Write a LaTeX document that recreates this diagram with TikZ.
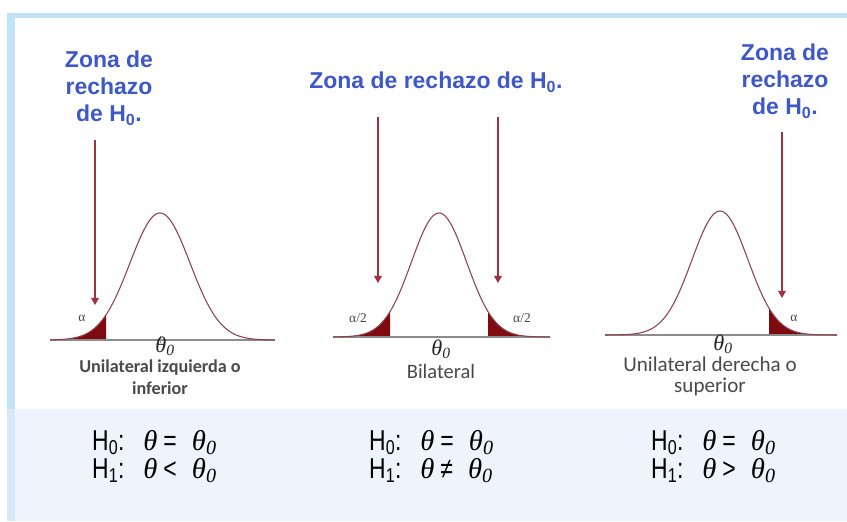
\documentclass[tikz,border=0pt]{standalone}
\usepackage{fontspec}
\setmainfont{Liberation Sans}
\newfontfamily\calfont{Carlito}
\newfontfamily\serfont{Liberation Serif}
\usetikzlibrary{arrows.meta}
\definecolor{zblue}{HTML}{3F58C9}
\definecolor{frameblue}{HTML}{C4E2F6}
\definecolor{stripblue}{HTML}{D6E9F8}
\definecolor{paleblue}{HTML}{EDF4FB}
\definecolor{curvecol}{HTML}{8E3F4E}
\definecolor{tailcol}{HTML}{7F0A10}
\definecolor{arrowcol}{HTML}{A1313E}
\definecolor{axiscol}{HTML}{8C8C8C}
\definecolor{txtgray}{HTML}{4A4A4A}
\newcommand\thv{{\serfont\itshape θ}}
\newcommand\thz{{\serfont\itshape θ\textsubscript{0}}}
\newcommand\hypline[2]{\scalebox{0.8}[1]{H\textsubscript{#1}:}\hspace{16pt}\thv\hspace{5pt}\scalebox{0.8}[1]{#2}\hspace{13pt}\thz}
\begin{document}
\begin{tikzpicture}[x=0.03cm,y=-0.03cm,
  zona/.style={font=\fontsize{19.6}{23}\selectfont\bfseries, text=zblue, align=center, inner sep=0pt},
  zarrow/.style={draw=arrowcol, line width=1.2pt, -{Triangle[width=6.5pt,length=6pt]}},
  curve/.style={draw=curvecol, line width=0.9pt},
  tail/.style={fill=tailcol},
  axis/.style={draw=axiscol, line width=1.2pt},
  alab/.style={font=\serfont\fontsize{11.5}{13}\selectfont, text=txtgray, inner sep=0pt},
  thlab/.style={font=\fontsize{19}{21}\selectfont, text=black!85, inner sep=0pt},
  glab/.style={font=\calfont\fontsize{16.5}{18.5}\selectfont, text=txtgray, align=center, inner sep=0pt},
  hyp/.style={font=\fontsize{24.5}{28}\selectfont, text=black, inner sep=0pt, anchor=base west}
]
\useasboundingbox (0,0) rectangle (847,521);
\fill[white] (0,0) rectangle (847,521);
\fill[frameblue] (7,13) rectangle (847,521);
\fill[stripblue] (7,409) rectangle (15,521);
\fill[paleblue] (15,18) rectangle (847,521);
\fill[white] (15,18) rectangle (847,409);

% ---------- left panel ----------
\node[zona] (zl) at (109,88) {Zona de\\rechazo\\de H\textsubscript{0}.};
\coordinate (al1) at (95,140);
\coordinate (al2) at (95,305);
\draw[zarrow] (al1) -- (al2);
\fill[tail] (50,340) -- plot[domain=50:106,samples=40] (\x,{340-127*exp(-0.5*((\x-160)/30)^2)}) -- (106,340) -- cycle;
\draw[axis] (50,340) -- (275,340);
\draw[axiscol, line width=0.8pt] (160,336) -- (160,343);
\draw[curve] plot[domain=50:275,samples=120] (\x,{340-127*exp(-0.5*((\x-160)/30)^2)});
\node[alab] (alphal) at (82,318) {α};
\node[thlab] (thl) at (165,346) {\thz};
\node[glab, font=\calfont\bfseries\fontsize{15.5}{18.5}\selectfont] (ul) at (160,377) {Unilateral izquierda o\\inferior};

% ---------- middle panel ----------
\node[zona] (zm) at (436,82) {Zona de rechazo de H\textsubscript{0}.};
\coordinate (am1) at (378,117);
\coordinate (am2) at (378,283);
\coordinate (am3) at (498,117);
\coordinate (am4) at (498,283);
\draw[zarrow] (am1) -- (am2);
\draw[zarrow] (am3) -- (am4);
\fill[tail] (333,337) -- plot[domain=333:390,samples=40] (\x,{337-124*exp(-0.5*((\x-439)/27.5)^2)}) -- (390,337) -- cycle;
\fill[tail] (488,337) -- plot[domain=488:550,samples=40] (\x,{337-124*exp(-0.5*((\x-439)/27.5)^2)}) -- (550,337) -- cycle;
\draw[axis] (333,337) -- (550,337);
\draw[curve] plot[domain=333:550,samples=120] (\x,{337-124*exp(-0.5*((\x-439)/27.5)^2)});
\node[alab] (alpham1) at (358,318) {α/2};
\node[alab] (alpham2) at (522,318) {α/2};
\node[thlab] (thm) at (441,349) {\thz};
\node[glab, font=\calfont\fontsize{17.5}{19}\selectfont] (um) at (441,371) {Bilateral};

% ---------- right panel ----------
\node[zona] (zr) at (785,81) {Zona de\\rechazo\\de H\textsubscript{0}.};
\coordinate (ar1) at (782,132);
\coordinate (ar2) at (782,298);
\draw[zarrow] (ar1) -- (ar2);
\fill[tail] (769,335) -- plot[domain=769:837,samples=40] (\x,{335-124*exp(-0.5*((\x-720)/28)^2)}) -- (837,335) -- cycle;
\draw[axis] (605,335) -- (837,335);
\draw[curve] plot[domain=605:837,samples=120] (\x,{335-124*exp(-0.5*((\x-720)/28)^2)});
\node[alab] (alphar) at (794,318) {α};
\node[thlab] (thr) at (723,344) {\thz};
\node[glab, font=\calfont\fontsize{18}{18}\selectfont] (ur) at (710,376) {Unilateral derecha o\\superior};

% ---------- hypotheses ----------
\node[hyp] (h0l) at (92,450) {\hypline{0}{=}};
\node[hyp] (h1l) at (92,478) {\hypline{1}{<}};
\node[hyp] (h0m) at (369,450) {\hypline{0}{=}};
\node[hyp] (h1m) at (369,478) {\hypline{1}{≠}};
\node[hyp] (h0r) at (651,450) {\hypline{0}{=}};
\node[hyp] (h1r) at (651,478) {\hypline{1}{>}};
\end{tikzpicture}
\end{document}
